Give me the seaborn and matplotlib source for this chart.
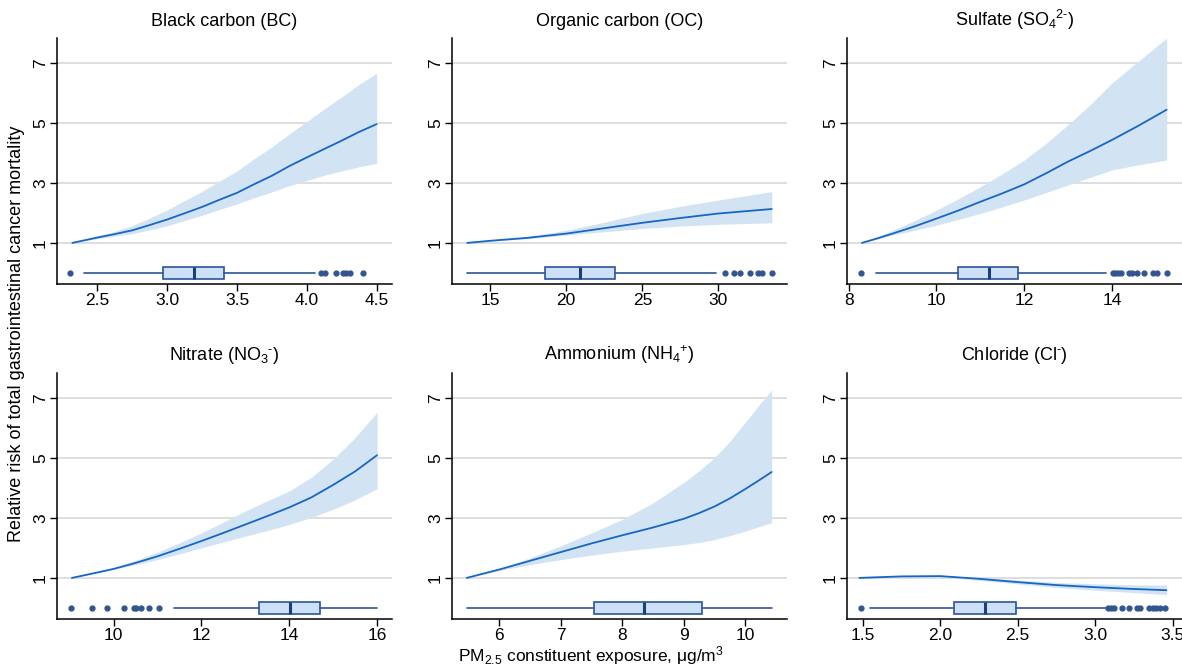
import matplotlib
matplotlib.use("Agg")
import matplotlib.pyplot as plt
import numpy as np
import pandas as pd
import seaborn as sns

# ---- data ---------------------------------------------------------------
titles = ["Black carbon (BC)", "Organic carbon (OC)", r"Sulfate (SO$_4$$^{2\text{-}}$)",
          r"Nitrate (NO$_3$$^{\text{-}}$)", r"Ammonium (NH$_4$$^{+}$)", r"Chloride (Cl$^{\text{-}}$)"]

bc_x = [2.32, 2.4, 2.5, 2.62, 2.75, 2.87, 3.0, 3.12, 3.25, 3.37, 3.5, 3.62, 3.75, 3.87, 4.0, 4.12, 4.25, 4.37, 4.5]
bc_rr = [1.0, 1.08, 1.18, 1.29, 1.42, 1.59, 1.78, 1.98, 2.2, 2.43, 2.67, 2.95, 3.24, 3.55, 3.85, 4.12, 4.41, 4.69, 4.96]
bc_hi = [1.0, 1.1, 1.23, 1.38, 1.58, 1.82, 2.1, 2.4, 2.72, 3.05, 3.4, 3.8, 4.2, 4.62, 5.05, 5.45, 5.87, 6.27, 6.66]
bc_lo = [1.0, 1.07, 1.14, 1.22, 1.31, 1.43, 1.57, 1.74, 1.92, 2.11, 2.3, 2.5, 2.7, 2.9, 3.08, 3.25, 3.4, 3.53, 3.65]

oc_x = [13.5, 15, 17.5, 20, 22.5, 25, 27.5, 30, 33.5]
oc_rr = [1.0, 1.07, 1.17, 1.31, 1.49, 1.67, 1.83, 1.98, 2.13]
oc_hi = [1.0, 1.08, 1.22, 1.42, 1.69, 1.98, 2.22, 2.43, 2.71]
oc_lo = [1.0, 1.06, 1.14, 1.26, 1.37, 1.48, 1.56, 1.62, 1.67]

so4_x = [8.3, 8.65, 9, 9.5, 10, 10.5, 11, 11.5, 12, 12.5, 13, 13.5, 14, 14.6, 15.25]
so4_rr = [1.0, 1.15, 1.31, 1.55, 1.81, 2.08, 2.37, 2.65, 2.95, 3.32, 3.71, 4.06, 4.43, 4.9, 5.44]
so4_hi = [1.0, 1.2, 1.42, 1.74, 2.09, 2.47, 2.87, 3.3, 3.76, 4.32, 4.94, 5.6, 6.33, 7.05, 7.83]
so4_lo = [1.0, 1.13, 1.26, 1.42, 1.59, 1.78, 1.98, 2.2, 2.43, 2.68, 2.93, 3.18, 3.43, 3.6, 3.76]

no3_x = [9.05, 9.5, 10, 10.5, 11, 11.5, 12, 12.5, 13, 13.5, 14, 14.5, 15, 15.5, 16]
no3_rr = [1.0, 1.14, 1.3, 1.5, 1.72, 1.97, 2.23, 2.5, 2.78, 3.06, 3.35, 3.68, 4.1, 4.55, 5.09]
no3_hi = [1.0, 1.15, 1.33, 1.58, 1.86, 2.17, 2.5, 2.86, 3.23, 3.57, 3.9, 4.35, 4.96, 5.68, 6.52]
no3_lo = [1.0, 1.13, 1.28, 1.44, 1.61, 1.8, 2.0, 2.2, 2.39, 2.58, 2.78, 3.01, 3.29, 3.6, 3.98]

nh4_x = [5.47, 6, 6.5, 7, 7.5, 8, 8.5, 9, 9.25, 9.5, 9.75, 10, 10.2, 10.43]
nh4_rr = [1.0, 1.28, 1.57, 1.86, 2.15, 2.42, 2.68, 2.97, 3.16, 3.38, 3.65, 3.96, 4.22, 4.53]
nh4_hi = [1.0, 1.3, 1.67, 2.07, 2.5, 2.95, 3.5, 4.18, 4.57, 5.01, 5.55, 6.18, 6.7, 7.27]
nh4_lo = [1.0, 1.25, 1.44, 1.61, 1.76, 1.89, 2.0, 2.11, 2.18, 2.28, 2.41, 2.56, 2.69, 2.84]

cl_x = [1.48, 1.75, 2.0, 2.25, 2.5, 2.75, 3.0, 3.25, 3.46]
cl_rr = [1.0, 1.05, 1.06, 0.97, 0.86, 0.76, 0.69, 0.63, 0.59]
cl_hi = [1.0, 1.06, 1.08, 1.02, 0.93, 0.85, 0.8, 0.77, 0.76]
cl_lo = [1.0, 1.04, 1.04, 0.92, 0.8, 0.68, 0.59, 0.51, 0.44]

# box summaries: whislo, q1, med, q3, whishi  +  outliers
bc_box = [2.40, 2.97, 3.19, 3.41, 4.06]
bc_out = [2.30, 4.10, 4.13, 4.21, 4.26, 4.28, 4.31, 4.40]
oc_box = [13.47, 18.6, 20.9, 23.2, 29.85]
oc_out = [30.4, 31.05, 31.4, 32.1, 32.6, 32.85, 33.5]
so4_box = [8.61, 10.49, 11.2, 11.86, 13.87]
so4_out = [8.29, 14.02, 14.07, 14.15, 14.21, 14.38, 14.45, 14.57, 14.73, 14.95, 15.04, 15.25]
no3_box = [11.37, 13.3, 14.02, 14.71, 16.0]
no3_out = [9.04, 9.51, 9.86, 10.23, 10.46, 10.52, 10.63, 10.8, 11.04]
nh4_box = [5.47, 7.54, 8.35, 9.3, 10.43]
nh4_out = []
cl_box = [1.55, 2.09, 2.29, 2.49, 3.07]
cl_out = [1.49, 3.08, 3.10, 3.12, 3.17, 3.22, 3.27, 3.29, 3.35, 3.37, 3.39, 3.42, 3.45]

xlims = [(2.21, 4.61), (12.5, 34.5), (7.96, 15.6), (8.71, 16.34), (5.23, 10.68), (1.40, 3.56)]
xticks = [[2.5, 3.0, 3.5, 4.0, 4.5], [15, 20, 25, 30], [8, 10, 12, 14],
          [10, 12, 14, 16], [6, 7, 8, 9, 10], [1.5, 2.0, 2.5, 3.0, 3.5]]
xfmt = ["{:.1f}", "{:.0f}", "{:.0f}", "{:.0f}", "{:.0f}", "{:.1f}"]

panels = [
    (bc_x, bc_rr, bc_lo, bc_hi, bc_box, bc_out),
    (oc_x, oc_rr, oc_lo, oc_hi, oc_box, oc_out),
    (so4_x, so4_rr, so4_lo, so4_hi, so4_box, so4_out),
    (no3_x, no3_rr, no3_lo, no3_hi, no3_box, no3_out),
    (nh4_x, nh4_rr, nh4_lo, nh4_hi, nh4_box, nh4_out),
    (cl_x, cl_rr, cl_lo, cl_hi, cl_box, cl_out),
]

LINE = "#1666c5"
BAND = "#d2e4f4"
BOXFACE = "#cde0f5"
BOXEDGE = "#2c5596"
MEDIAN = "#1b3f7c"
DOT = "#33558f"

sns.set_style("white")
plt.rcParams["font.family"] = ["Liberation Sans", "DejaVu Sans"]
plt.rcParams["text.color"] = "black"
plt.rcParams["xtick.color"] = "black"
plt.rcParams["ytick.color"] = "black"
plt.rcParams["mathtext.fontset"] = "custom"
plt.rcParams["mathtext.rm"] = "Liberation Sans"
plt.rcParams["mathtext.it"] = "Liberation Sans"
plt.rcParams["mathtext.default"] = "regular"

fig = plt.figure(figsize=(11.82, 6.67), dpi=100)
lefts = [57 / 1182, 452 / 1182, 847 / 1182]
bottoms = [1 - 284 / 667, 1 - 619 / 667]
w, h = 335 / 1182, 246 / 667

for i, (xs, rr, lo, hi, box, out) in enumerate(panels):
    ax = fig.add_axes([lefts[i % 3], bottoms[i // 3], w, h])
    for yv in [1, 3, 5, 7]:
        ax.axhline(yv, color="#d4d4d4", lw=1.1, zorder=0)
    ax.fill_between(xs, lo, hi, color=BAND, lw=0, zorder=1)
    df = pd.DataFrame({"x": xs, "rr": rr})
    sns.lineplot(data=df, x="x", y="rr", ax=ax, color=LINE, lw=1.3, zorder=3)

    stats = [{"whislo": box[0], "q1": box[1], "med": box[2], "q3": box[3],
              "whishi": box[4], "fliers": out}]
    ax.bxp(stats, positions=[0], vert=False, widths=0.42, patch_artist=True,
           showcaps=False, manage_ticks=False,
           boxprops=dict(facecolor=BOXFACE, edgecolor=BOXEDGE, lw=1.2),
           whiskerprops=dict(color=BOXEDGE, lw=1.2),
           medianprops=dict(color=MEDIAN, lw=2.2),
           flierprops=dict(marker="o", markersize=3.5, markerfacecolor=DOT,
                           markeredgecolor=DOT))

    ax.set_xlim(*xlims[i])
    ax.set_ylim(-0.37, 7.83)
    ax.set_yticks([1, 3, 5, 7])
    ax.set_yticklabels(["1", "3", "5", "7"], rotation=90, va="center", fontsize=12.5)
    ax.set_xticks(xticks[i])
    ax.set_xticklabels([xfmt[i].format(t) for t in xticks[i]], fontsize=12.5)
    ax.tick_params(axis="both", direction="out", length=5, width=1, color="black",
                   left=True, bottom=True, pad=1.5)
    ax.set_xlabel("")
    ax.set_ylabel("")
    ax.set_title(titles[i], fontsize=13, pad=9)
    sns.despine(ax=ax)
    for s in ["left", "bottom"]:
        ax.spines[s].set_color("black")
        ax.spines[s].set_linewidth(1.1)

fig.text(0.014, 0.5, "Relative risk of total gastrointestinal cancer mortality",
         rotation=90, va="center", ha="center", fontsize=13)
fig.text(0.5, 0.0, r"PM$_{2.5}$ constituent exposure, μg/m$^3$",
         ha="center", va="bottom", fontsize=12.5)

fig.savefig("out.png", dpi=100)
